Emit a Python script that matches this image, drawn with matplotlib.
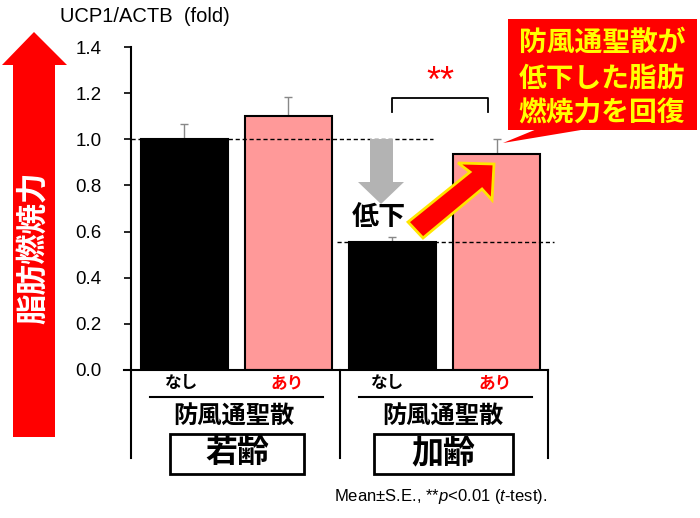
import numpy as np
import matplotlib
matplotlib.use("Agg")
import matplotlib.pyplot as plt
import matplotlib.transforms as mtransforms
from matplotlib.patches import Polygon, Rectangle
from matplotlib.lines import Line2D

plt.rcParams['font.family'] = ['Liberation Sans', 'Noto Sans CJK JP', 'DejaVu Sans']
plt.rcParams['mathtext.fontset'] = 'custom'
plt.rcParams['mathtext.rm'] = 'Liberation Sans'
plt.rcParams['mathtext.it'] = 'Liberation Sans:italic'

# data
values = [1.00, 1.10, 0.555, 0.935]
errors = [0.065, 0.085, 0.02, 0.065]
colors = ['black', '#FF9999', 'black', '#FF9999']
treat_labels = ['なし', 'あり', 'なし', 'あり']
treat_colors = ['black', 'red', 'black', 'red']
group_labels = ['若齢', '加齢']
drug = '防風通聖散'
yticks = [0.0, 0.2, 0.4, 0.6, 0.8, 1.0, 1.2, 1.4]

W, H = 700, 518
fig = plt.figure(figsize=(7, 5.18), dpi=100)
# pixel coords, origin top-left
P = mtransforms.Affine2D().scale(1 / W, -1 / H).translate(0, 1) + fig.transFigure

ax = fig.add_axes([131 / W, 1 - 370 / H, (548 - 131) / W, (370 - 47) / H])
x = np.arange(len(values))
ax.bar(x, values, width=0.84, color=colors, edgecolor='black', linewidth=1.5, zorder=2)
ax.errorbar(x, values, yerr=[np.zeros(4), errors], fmt='none', ecolor='#888888',
            elinewidth=1, capsize=3, capthick=1, zorder=1)
ax.set_xlim(-0.514, 3.495)
ax.set_ylim(0, 1.4)
ax.set_yticks(yticks)
ax.set_yticklabels([f'{v:.1f}' for v in yticks], fontsize=13.5)
ax.tick_params(axis='y', length=5, width=1.2, pad=16)
ax.set_xticks([])
for s in ['top', 'right', 'bottom']:
    ax.spines[s].set_visible(False)
ax.spines['left'].set_linewidth(1.5)

# dashed reference lines
ax.axhline(values[0], xmin=0, xmax=0.724, color='black', ls=(0, (3, 2)), lw=1, zorder=3)
ax.axhline(values[2], xmin=0.494, xmax=1.014, color='black', ls=(0, (3, 2)), lw=1,
           zorder=3, clip_on=False)

# significance bracket
ax.plot([2.0, 2.0, 2.92, 2.92], [1.12, 1.18, 1.18, 1.12], color='black', lw=1.3, clip_on=False)
ax.text(2.46, 1.245, '**', color='red', fontsize=26, ha='center', va='center')

fig.text(60, 17, 'UCP1/ACTB  (fold)', transform=P, fontsize=14.5, ha='left', va='center')

# axis lines below the plot
lines = [((124, 548), (370, 370)), ((131, 131), (370, 458)),
         ((340, 340), (370, 458)), ((548, 548), (370, 458)),
         ((150, 323), (397, 397)), ((359, 532), (397, 397))]
for xs, ys in lines:
    fig.add_artist(Line2D(xs, ys, transform=P, color='black', lw=1.5))

jp = ['Noto Sans CJK JP', 'DejaVu Sans']
for xp, lab, c in zip([182, 287, 388, 495], treat_labels, treat_colors):
    fig.text(xp, 383, lab, transform=P, color=c, fontsize=12, fontweight='bold',
             family=jp, ha='center', va='center')
for xc, bx0, bx1, g in zip([234, 443], [170, 374], [304, 513], group_labels):
    fig.text(xc, 416, drug, transform=P, fontsize=17.5, fontweight='bold',
             family=jp, ha='center', va='center')
    fig.add_artist(Rectangle((bx0, 434), bx1 - bx0, 40, transform=P, fill=False,
                             edgecolor='black', lw=2))
    fig.text((bx0 + bx1) / 2, 453, g, transform=P, fontsize=23, fontweight='bold',
             family=jp, ha='center', va='center')

fig.text(547, 497, 'Mean±S.E., **$p$<0.01 ($t$-test).', transform=P, fontsize=12,
         ha='right', va='center')

# big red arrow on the left
fig.add_artist(Polygon([(13, 437), (13, 65), (2, 65), (34, 32), (67, 65), (55, 65), (55, 437)],
                       closed=True, transform=P, facecolor='red', edgecolor='none'))
fig.text(33, 248, '脂肪燃焼力', transform=P, rotation=90, color='white', fontsize=22,
         fontweight='bold', family=jp, ha='center', va='center')

# gray down arrow
fig.add_artist(Polygon([(370, 139), (393, 139), (393, 182), (404, 182), (381, 204),
                        (358, 182), (370, 182)], closed=True, transform=P,
                       facecolor='#B3B3B3', edgecolor='none'))
fig.text(379, 217, '低下', transform=P, fontsize=19.5, fontweight='bold', family=jp,
         ha='center', va='center')

# red recovery arrow
fig.add_artist(Polygon([(408, 222), (470, 172), (458, 163), (494, 164), (492, 200),
                        (482, 189), (423, 238)], closed=True, transform=P,
                       facecolor='red', edgecolor='#FFE600', lw=2, zorder=5))

# callout
fig.add_artist(Polygon([(537, 129), (587, 129), (503, 143)], closed=True, transform=P,
                       facecolor='red', edgecolor='none'))
fig.add_artist(Rectangle((508, 19), 189, 111, transform=P, facecolor='red', edgecolor='none'))
for yl, line in zip([43, 79, 113], ['防風通聖散が', '低下した脂肪', '燃焼力を回復']):
    fig.text(602, yl, line, transform=P, color='#FFFF00', fontsize=20, fontweight='bold',
             family=jp, ha='center', va='center')

fig.savefig('out.png', dpi=100)
